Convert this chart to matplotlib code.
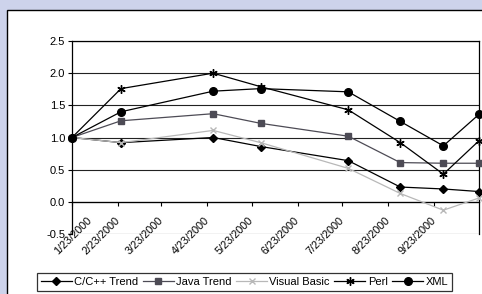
import datetime as dt

import matplotlib
matplotlib.use("Agg")
import matplotlib.pyplot as plt
import matplotlib.transforms as mtransforms
from matplotlib.patches import Rectangle
from matplotlib.ticker import FuncFormatter, MultipleLocator
import matplotlib.dates as mdates

plt.rcParams["font.family"] = ["Liberation Sans", "DejaVu Sans"]

dates = [
    dt.date(2000, 1, 23), dt.date(2000, 2, 25), dt.date(2000, 4, 27),
    dt.date(2000, 5, 29), dt.date(2000, 7, 27), dt.date(2000, 8, 31),
    dt.date(2000, 9, 29), dt.date(2000, 10, 23),
]
cpp = [1.0, 0.92, 1.0, 0.86, 0.64, 0.23, 0.20, 0.16]
java = [1.0, 1.26, 1.37, 1.22, 1.02, 0.61, 0.60, 0.60]
vb = [1.0, 0.92, 1.11, 0.92, 0.52, 0.13, -0.13, 0.06]
perl = [1.0, 1.76, 2.0, 1.79, 1.43, 0.92, 0.43, 0.95]
xml = [1.0, 1.40, 1.72, 1.76, 1.71, 1.25, 0.87, 1.36]
tick_dates = [dt.date(2000, m, 23) for m in range(1, 10)]

series = [
    ("C/C++ Trend", cpp, "black", "D", 4.2),
    ("Java Trend", java, "#4d4b55", "s", 5),
    ("Visual Basic", vb, "#b8b8b8", "x", 5),
    ("Perl", perl, "black", (6, 2, 0), 6),
    ("XML", xml, "black", "o", 5.5),
]

fig = plt.figure(figsize=(4.82, 2.94), dpi=100)
fig.patch.set_facecolor("#cdd3eb")
fig.patches.append(Rectangle((7 / 482, -0.1), 1.2, 1 - 10 / 294 + 0.1,
                             transform=fig.transFigure, facecolor="white",
                             edgecolor="black", linewidth=1.0, zorder=-1))

ax = fig.add_axes([72 / 482, 1 - 234 / 294, 407 / 482, 193 / 294])
ax.set_facecolor("white")

for name, vals, color, marker, size in series:
    ax.plot(dates, vals, color=color, linewidth=0.9, marker=marker,
            markersize=size, markerfacecolor=color, markeredgecolor=color,
            markeredgewidth=1.0, label=name, clip_on=False, zorder=3)

ax.set_ylim(-0.5, 2.5)
ax.yaxis.set_major_locator(MultipleLocator(0.5))
ax.yaxis.set_major_formatter(FuncFormatter(lambda v, p: f"{v:.1f}"))
ax.grid(axis="y", color="#222222", linewidth=0.8)
ax.set_axisbelow(True)

ax.set_xlim(dates[0], dates[-1])
ax.set_xticks([mdates.date2num(d) for d in tick_dates])
ax.xaxis.set_major_formatter(FuncFormatter(
    lambda v, p: "{0.month}/{0.day}/{0.year}".format(mdates.num2date(v))))

ax.spines["bottom"].set_position(("data", 0))
for s in ax.spines.values():
    s.set_linewidth(0.9)
    s.set_color("black")

ax.tick_params(axis="y", direction="out", length=3, width=0.8, pad=2,
               labelsize=8)
ax.tick_params(axis="x", direction="out", length=3, width=0.8, pad=9,
               labelsize=7.8)
for i, lab in enumerate(ax.get_xticklabels()):
    lab.set_rotation(45)
    lab.set_ha("right")
    lab.set_va("center")
    lab.set_rotation_mode("anchor")
    if i == 0:
        lab.set_transform(lab.get_transform() + mtransforms.ScaledTranslation(
            18 / 100, 0, fig.dpi_scale_trans))

leg = fig.legend(loc="upper left", bbox_to_anchor=(37 / 482, 1 - 273 / 294),
                 ncol=5, frameon=True, fancybox=False, edgecolor="black",
                 fontsize=8, handlelength=2.8, handletextpad=0.2,
                 columnspacing=0.4, borderaxespad=0, borderpad=0.35)
leg.get_frame().set_linewidth(0.9)

fig.savefig("out.png", dpi=100, facecolor=fig.get_facecolor())
